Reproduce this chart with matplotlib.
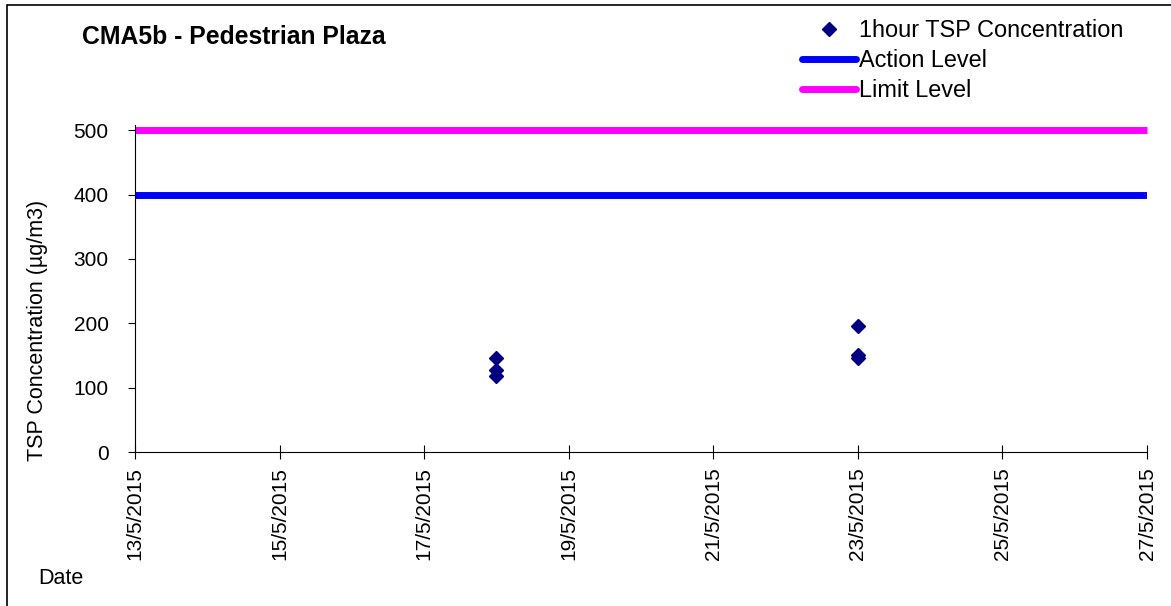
import matplotlib
matplotlib.use("Agg")
import matplotlib.pyplot as plt
import matplotlib.dates as mdates
from matplotlib.patches import Rectangle
from matplotlib.ticker import FuncFormatter
from datetime import datetime

plt.rcParams['font.family'] = ['Liberation Sans', 'DejaVu Sans']

# data
sample_dates = ["18/5/2015", "18/5/2015", "18/5/2015",
                "23/5/2015", "23/5/2015", "23/5/2015"]
tsp_1hr = [146, 128, 118, 195, 150, 146]
action_level = 400
limit_level = 500
x_start = "13/5/2015"
x_end = "27/5/2015"
yticks = [0, 100, 200, 300, 400, 500]

def d(s):
    return datetime.strptime(s, "%d/%m/%Y")

xs = [d(s) for s in sample_dates]
x0, x1 = d(x_start), d(x_end)

fig = plt.figure(figsize=(11.71, 6.06), dpi=100)
ax = fig.add_axes([135/1171, 1 - 452/606, (1147 - 135)/1171, (452 - 125)/606])

ax.plot(xs, tsp_1hr, 'D', color='#000080', markersize=7.5, linestyle='none',
        label='1hour TSP Concentration', clip_on=False, zorder=3)
ax.plot([x0, x1], [action_level, action_level], color='#0000FF', lw=5,
        solid_capstyle='butt', label='Action Level')
ax.plot([x0, x1], [limit_level, limit_level], color='#FF00FF', lw=5,
        solid_capstyle='butt', label='Limit Level', clip_on=False)

ax.set_xlim(x0, x1)
ax.set_ylim(0, 508)
ax.set_yticks(yticks)
ax.xaxis.set_major_locator(mdates.DayLocator(interval=2))
ax.xaxis.set_major_formatter(FuncFormatter(
    lambda v, p: "{0.day}/{0.month}/{0.year}".format(mdates.num2date(v))))

for s in ['top', 'right']:
    ax.spines[s].set_visible(False)
ax.spines['left'].set_linewidth(0.8)
ax.spines['bottom'].set_linewidth(0.8)
ax.tick_params(axis='y', direction='out', length=5, pad=14, labelsize=15)
ax.tick_params(axis='x', direction='inout', length=10, pad=6, labelsize=15,
               labelrotation=90)

fig.text(38/1171, 1 - 330/606, 'TSP Concentration (µg/m3)', rotation=90,
         ha='center', va='center', fontsize=15.5)
fig.text(38/1171, 1 - 578/606, 'Date', ha='left', va='center', fontsize=15.5)
fig.text(82/1171, 1 - 37/606, 'CMA5b - Pedestrian Plaza', ha='left',
         va='center', fontsize=17.8, fontweight='bold')

leg = ax.legend(loc='upper left', bbox_to_anchor=(802/1171, 1 - 19/606),
                bbox_transform=fig.transFigure, frameon=False, fontsize=16.9,
                handlelength=2.3, handletextpad=0.12, labelspacing=0.3,
                borderpad=0, borderaxespad=0)
for h in leg.get_lines():
    h.set_solid_capstyle('round')

fig.patches.append(Rectangle((7/1171, -0.05), 1.1, 1 - 5/606 + 0.05,
                             transform=fig.transFigure, fill=False,
                             edgecolor='black', lw=1.2))

fig.savefig("out.png", dpi=100)
